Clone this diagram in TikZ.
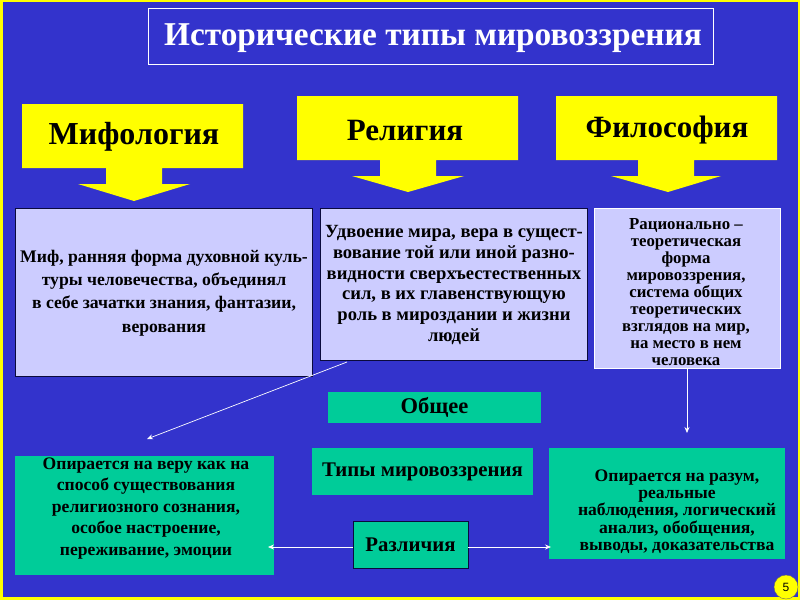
\documentclass[tikz,border=0pt]{standalone}
\usepackage{fontspec}
\setmainfont{Liberation Serif}
\setsansfont{Liberation Sans}
\usetikzlibrary{arrows.meta}
\definecolor{bgblue}{RGB}{51,51,204}
\definecolor{yel}{RGB}{255,255,0}
\definecolor{lav}{RGB}{204,204,255}
\definecolor{teal2}{RGB}{0,204,153}
\definecolor{navy}{RGB}{10,10,60}
\tikzset{
  lavbox/.style={fill=lav, draw=navy, line width=0.8pt, inner sep=0pt},
  tealbox/.style={fill=teal2, inner sep=0pt, align=center, font=\bfseries},
  txt/.style={inner sep=0pt, align=center, text=black},
  yelshape/.style={fill=yel},
  head/.style={font=\bfseries\fontsize{30}{30}\selectfont, text=black, inner sep=0pt},
  conn/.style={white, line width=0.7pt, -{Stealth[length=6pt,width=5pt]}},
}
\begin{document}
\begin{tikzpicture}[x=1pt,y=-1pt]
\useasboundingbox (0,0) rectangle (800,600);
\fill[yel] (0,0) rectangle (800,600);
\fill[bgblue] (3,2) rectangle (798,597);
% title
\node[draw=white, line width=0.7pt, minimum width=565pt, minimum height=56pt, inner sep=0pt] (title) at (430.5,36) {};
\node[text=white, font=\bfseries\fontsize{33.3}{33.3}\selectfont, inner sep=0pt] (ttl) at (433,38) {Исторические типы мировоззрения};
% yellow arrows
\fill[yelshape] (22,104) -- (243,104) -- (243,168) -- (162,168) -- (162,184) -- (190,184) -- (134,201) -- (78,184) -- (106,184) -- (106,168) -- (22,168) -- cycle;
\fill[yelshape] (297,96) -- (518,96) -- (518,160) -- (436,160) -- (436,176) -- (464,176) -- (408,192) -- (352,176) -- (380,176) -- (380,160) -- (297,160) -- cycle;
\fill[yelshape] (556,96) -- (777,96) -- (777,160) -- (694,160) -- (694,176) -- (721,176) -- (668,192) -- (611,176) -- (638,176) -- (638,160) -- (556,160) -- cycle;
\node[head, font=\bfseries\fontsize{32}{32}\selectfont] (mif) at (134,137) {Мифология};
\node[head, font=\bfseries\fontsize{31}{31}\selectfont] (rel) at (405,130) {Религия};
\node[head, font=\bfseries\fontsize{31}{31}\selectfont] (fil) at (667,130) {Философия};
% lavender boxes
\node[lavbox, minimum width=297pt, minimum height=168pt] (b1) at (163.5,292) {};
\node[txt, font=\bfseries\fontsize{17.7}{23.2}\selectfont] (b1t) at (164,293) {Миф, ранняя форма духовной куль-\\туры человечества, объединял\\в себе зачатки знания, фантазии,\\верования};
\node[lavbox, minimum width=267pt, minimum height=152pt] (b2) at (453.5,284) {};
\node[txt, font=\bfseries\fontsize{18.6}{20.9}\selectfont] (b2t) at (454,285) {Удвоение мира, вера в сущест-\\вование той или иной разно-\\видности сверхъестественных\\сил, в их главенствующую\\роль в мироздании и жизни\\людей};
\node[lavbox, draw=white, minimum width=186pt, minimum height=160pt] (b3) at (687,288) {};
\node[txt, font=\bfseries\fontsize{16.8}{17}\selectfont] (b3t) at (686,292) {Рационально –\\теоретическая\\форма\\мировоззрения,\\система общих\\теоретических\\взглядов на мир,\\на место в нем\\человека};
% teal boxes
\node[tealbox, minimum width=213pt, minimum height=31pt, font=\bfseries\fontsize{22.5}{22.5}\selectfont] (ob) at (434.5,407.5) {Общее};
\node[tealbox, minimum width=221pt, minimum height=47pt, font=\bfseries\fontsize{20.8}{20.8}\selectfont] (tm) at (422.5,471.5) {Типы мировоззрения};
\node[tealbox, draw=navy, line width=0.8pt, minimum width=115pt, minimum height=47pt, font=\bfseries\fontsize{20.8}{20.8}\selectfont] (raz) at (410.5,544.5) {Различия};
\node[tealbox, minimum width=259pt, minimum height=119pt] (lt) at (144.5,515.5) {};
\node[txt, font=\bfseries\fontsize{17.6}{21.5}\selectfont] (ltt) at (146,508.5) {Опирается на веру как на\\способ существования\\религиозного сознания,\\особое настроение,\\переживание, эмоции};
\node[tealbox, minimum width=236pt, minimum height=111pt] (rt) at (667,503.5) {};
\node[txt, font=\bfseries\fontsize{17.6}{17.2}\selectfont] (rtt) at (677,511.5) {Опирается на разум,\\реальные\\наблюдения, логический\\анализ, обобщения,\\выводы, доказательства};
% connectors
\coordinate (s1) at (347,362);
\coordinate (e1) at (147,439);
\coordinate (e2) at (687,433);
\coordinate (e3) at (268,547);
\coordinate (e4) at (551,547);
\draw[conn] (s1) -- (e1);
\draw[conn] (b3.south) -- (e2);
\draw[conn] (raz.west |- e3) -- (e3);
\draw[conn] (raz.east |- e4) -- (e4);
% page number
\node[circle, fill=yel, draw=black!60, line width=0.4pt, minimum size=24pt, inner sep=0pt, font=\sffamily\fontsize{12}{12}\selectfont] (pg) at (786,587) {5};
\end{tikzpicture}
\end{document}
